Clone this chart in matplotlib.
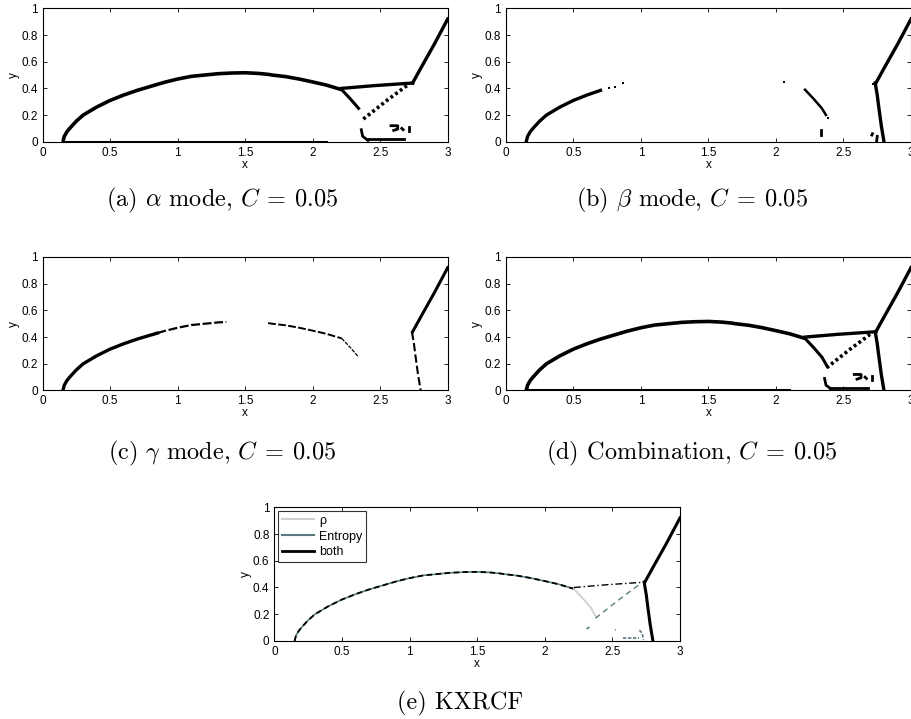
import numpy as np
import matplotlib
matplotlib.use("Agg")
import matplotlib.pyplot as plt

plt.rcParams["font.family"] = ["Liberation Sans", "DejaVu Sans"]
plt.rcParams["mathtext.fontset"] = "cm"

# shock front geometry (x, y) picked up by the indicators
bow_x = [0.15, 0.16, 0.18, 0.20, 0.25, 0.30, 0.40, 0.50, 0.60, 0.70, 0.80, 0.85, 0.90,
         1.00, 1.10, 1.20, 1.30, 1.36, 1.40, 1.50, 1.60, 1.67, 1.70, 1.80, 1.90, 2.00,
         2.10, 2.215]
bow_y = [0.00, 0.04, 0.075, 0.10, 0.155, 0.20, 0.26, 0.31, 0.35, 0.385, 0.415, 0.43, 0.445,
         0.47, 0.49, 0.50, 0.51, 0.513, 0.515, 0.517, 0.512, 0.505, 0.50, 0.488, 0.47, 0.448,
         0.425, 0.39]
reflect_x = [2.215, 2.28, 2.34, 2.38]
reflect_y = [0.39, 0.32, 0.25, 0.18]
stem_x = [2.215, 2.45, 2.74]
stem_y = [0.40, 0.42, 0.44]
upper_x = [2.74, 2.80, 2.90, 3.00]
upper_y = [0.44, 0.55, 0.73, 0.92]
lower_x = [2.735, 2.75, 2.76, 2.78, 2.80]
lower_y = [0.44, 0.35, 0.27, 0.12, 0.0]
diag_x = [2.375, 2.55, 2.71]
diag_y = [0.17, 0.31, 0.43]
wall_x = [0.15, 2.10]
wall_y = [0.0, 0.0]

# small detected cells near the wall behind the Mach stem
blob_x = [[2.40, 2.68], [2.36, 2.37, 2.41], [2.58, 2.63, 2.63, 2.60], [2.66, 2.67], [2.71, 2.71]]
blob_y = [[0.02, 0.02], [0.09, 0.04, 0.01], [0.12, 0.12, 0.095, 0.085], [0.10, 0.09], [0.11, 0.08]]

beta_dots_x = [0.76, 0.81, 0.87, 2.06, 2.385, 2.72]
beta_dots_y = [0.40, 0.41, 0.44, 0.45, 0.18, 0.43]
beta_marks_x = [[2.335, 2.335], [2.71, 2.715], [2.745, 2.75]]
beta_marks_y = [[0.05, 0.09], [0.05, 0.06], [0.0, 0.04]]

kx_bits_x = [[2.31, 2.34], [2.58, 2.70], [2.70, 2.72, 2.73], [2.52, 2.525]]
kx_bits_y = [[0.09, 0.11], [0.02, 0.02], [0.08, 0.06, 0.01], [0.08, 0.085]]

rho_color = "#d0d0d0"
ent_color = "#587a80"

xticks = [0, 0.5, 1, 1.5, 2, 2.5, 3]
xtick_labels = ["0", "0.5", "1", "1.5", "2", "2.5", "3"]
yticks = [0, 0.2, 0.4, 0.6, 0.8, 1]
ytick_labels = ["0", "0.2", "0.4", "0.6", "0.8", "1"]

bx = np.array(bow_x)
by = np.array(bow_y)


def setup(ax):
    ax.set_xlim(0, 3)
    ax.set_ylim(0, 1)
    ax.set_xticks(xticks)
    ax.set_xticklabels(xtick_labels)
    ax.set_yticks(yticks)
    ax.set_yticklabels(ytick_labels)
    ax.tick_params(direction="in", top=True, right=True, length=3, width=0.6,
                   labelsize=8.5, pad=3.5)
    for s in ax.spines.values():
        s.set_linewidth(0.8)
    ax.set_xlabel("x", fontsize=8.5, labelpad=0)
    ax.set_ylabel("y", fontsize=8.5, labelpad=1)


def full_detection(ax, reflect_end, with_lower):
    ax.plot(bx, by, color="k", lw=2.6, solid_capstyle="butt")
    ax.plot(reflect_x[:reflect_end], reflect_y[:reflect_end], color="k", lw=2.2)
    ax.plot(stem_x, stem_y, color="k", lw=2.4)
    ax.plot(upper_x, upper_y, color="k", lw=2.4)
    if with_lower:
        ax.plot(lower_x, lower_y, color="k", lw=2.4)
    ax.plot(diag_x, diag_y, color="k", lw=2.6, ls=(0, (0.8, 0.8)))
    ax.plot(wall_x, wall_y, color="k", lw=2.2)
    for xs, ys in zip(blob_x, blob_y):
        ax.plot(xs, ys, color="k", lw=2.0)


fig = plt.figure(figsize=(9.12, 7.19), dpi=100)
ax_a = fig.add_axes([0.0468, 0.8029, 0.4441, 0.1855])
ax_b = fig.add_axes([0.5548, 0.8029, 0.4441, 0.1855])
ax_c = fig.add_axes([0.0468, 0.4569, 0.4441, 0.1857])
ax_d = fig.add_axes([0.5548, 0.4569, 0.4441, 0.1857])
ax_e = fig.add_axes([0.3008, 0.1085, 0.4448, 0.1860])

# (a) alpha mode
full_detection(ax_a, 3, False)

# (b) beta mode
m = bx <= 0.72
ax_b.plot(bx[m], by[m], color="k", lw=2.4)
ax_b.plot(reflect_x[:3] + [2.37], reflect_y[:3] + [0.20], color="k", lw=1.8)
ax_b.plot(upper_x, upper_y, color="k", lw=2.4)
ax_b.plot(lower_x, lower_y, color="k", lw=2.4)
ax_b.plot(beta_dots_x, beta_dots_y, "s", color="k", ms=2, mew=0)
for xs, ys in zip(beta_marks_x, beta_marks_y):
    ax_b.plot(xs, ys, color="k", lw=2.0)

# (c) gamma mode
m1 = bx <= 0.85
m2 = (bx >= 0.85) & (bx <= 1.36)
m3 = bx >= 1.67
ax_c.plot(bx[m1], by[m1], color="k", lw=2.4)
ax_c.plot(bx[m2], by[m2], color="k", lw=1.6, ls=(0, (4, 1.2)))
ax_c.plot(bx[m3], by[m3], color="k", lw=1.4, ls=(0, (4, 1.2)))
ax_c.plot(reflect_x[:3], reflect_y[:3], color="k", lw=0.9, ls=(0, (3, 1)))
ax_c.plot(upper_x, upper_y, color="k", lw=2.2)
ax_c.plot(lower_x, lower_y, color="k", lw=1.5, ls=(0, (4, 1.5)))

# (d) combination of all modes
full_detection(ax_d, 4, True)

# (e) KXRCF indicator
ax_e.plot(bx, by, color=ent_color, lw=1.2)
ax_e.plot(bx, by, color="k", lw=1.3, ls=(0, (3, 2)))
ax_e.plot(reflect_x, reflect_y, color=rho_color, lw=1.3)
ax_e.plot(stem_x, stem_y, color="k", lw=1.0, ls=(0, (5, 2, 1, 2)))
ax_e.plot(diag_x, diag_y, color=ent_color, lw=1.0, ls=(0, (4, 3)))
ax_e.plot(upper_x, upper_y, color="k", lw=2.2)
ax_e.plot(lower_x, lower_y, color="k", lw=2.2)
for xs, ys in zip(kx_bits_x, kx_bits_y):
    ax_e.plot(xs, ys, color=ent_color, lw=1.2, ls=(0, (2, 1)))
h1, = ax_e.plot([], [], color=rho_color, lw=1.5, label="ρ")
h2, = ax_e.plot([], [], color=ent_color, lw=1.5, label="Entropy")
h3, = ax_e.plot([], [], color="k", lw=2.0, label="both")
leg = ax_e.legend(handles=[h1, h2, h3], loc="upper left", fontsize=9, frameon=True,
                  fancybox=False, borderpad=0.3, labelspacing=0.3, handlelength=2.6,
                  handletextpad=0.4, borderaxespad=0.3)
leg.get_frame().set_edgecolor("k")
leg.get_frame().set_linewidth(0.8)

for ax in (ax_a, ax_b, ax_c, ax_d, ax_e):
    setup(ax)

caption_kw = dict(family="cmr10", fontsize=17.5, ha="center", va="center")
fig.text(222 / 912, 1 - 200 / 719, r"(a) $\alpha$ mode, $C\:=\:0.05$", **caption_kw)
fig.text(692 / 912, 1 - 200 / 719, r"(b) $\beta$ mode, $C\:=\:0.05$", **caption_kw)
fig.text(222 / 912, 1 - 453 / 719, r"(c) $\gamma$ mode, $C\:=\:0.05$", **caption_kw)
fig.text(692 / 912, 1 - 453 / 719, r"(d) Combination, $C\:=\:0.05$", **caption_kw)
fig.text(460 / 912, 1 - 703 / 719, "(e) KXRCF", **caption_kw)

fig.savefig("out.png", dpi=100)
